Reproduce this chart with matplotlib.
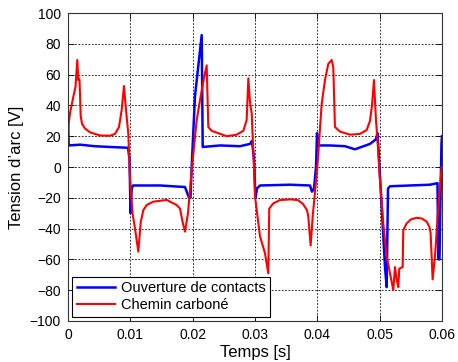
import matplotlib as mpl
mpl.use('Agg')
import matplotlib.pyplot as plt

# values, time in s, voltage in V
t_contacts = [
    0.0, 0.00011, 0.00193, 0.00433, 0.00674, 0.00963, 0.00987, 0.01003,
    0.01022, 0.01043, 0.01476, 0.01877, 0.01941, 0.01965, 0.01984, 0.02037,
    0.02145, 0.02161, 0.02439, 0.02759, 0.02920, 0.02952, 0.02984, 0.03008,
    0.03032, 0.03080, 0.03561, 0.03882, 0.03914, 0.03947, 0.03979, 0.03995,
    0.04019, 0.04203, 0.04444, 0.04604, 0.04845, 0.04941, 0.04965, 0.04981,
    0.05033, 0.05086, 0.05113, 0.05134, 0.05166, 0.05487, 0.05807, 0.05928,
    0.05941, 0.05960, 0.05976, 0.05992, 0.06]
v_contacts = [
    30, 14, 14.5, 13.5, 13, 12.5, 5, -30,
    -14, -12, -12, -13, -20, -20, 0, 46,
    85.7, 13, 14, 13.5, 15, 17, 5, -20,
    -14, -12, -11.5, -12, -16, -14, 0, 22,
    14, 14, 13.5, 11.5, 15, 18, 22, 12,
    -26, -65, -78, -14, -12.5, -12, -11.5, -10.5,
    -60, -60, -20, 15, 20]

t_carbone = [
    0.0, 0.00005, 0.00032, 0.00085, 0.00120, 0.00149, 0.00165, 0.00184,
    0.00204, 0.00225, 0.00273, 0.00353, 0.00513, 0.00674, 0.00754, 0.00818,
    0.00861, 0.00898, 0.00930, 0.00967, 0.00995, 0.01035, 0.01075, 0.01128,
    0.01166, 0.01208, 0.01262, 0.01369, 0.01583, 0.01743, 0.01797, 0.01840,
    0.01877, 0.01925, 0.01957, 0.01989, 0.02065, 0.02118, 0.02182, 0.02225,
    0.02251, 0.02304, 0.02546, 0.02706, 0.02813, 0.02866, 0.02893, 0.02920,
    0.02947, 0.02984, 0.03000, 0.03080, 0.03160, 0.03213, 0.03229, 0.03294,
    0.03401, 0.03561, 0.03690, 0.03770, 0.03834, 0.03855, 0.03893, 0.03926,
    0.04000, 0.04070, 0.04123, 0.04176, 0.04230, 0.04256, 0.04283, 0.04363,
    0.04524, 0.04684, 0.04792, 0.04845, 0.04877, 0.04909, 0.04941, 0.04965,
    0.05005, 0.05058, 0.05112, 0.05166, 0.05219, 0.05246, 0.05273, 0.05299,
    0.05315, 0.05369, 0.05379, 0.05433, 0.05503, 0.05594, 0.05679, 0.05754,
    0.05800, 0.05818, 0.05850, 0.05888, 0.05941, 0.05995]
v_carbone = [
    18, 26, 35, 45.6, 52, 69.5, 56.5, 57,
    33, 28, 25, 22.5, 20.5, 20.3, 21.5, 26,
    37, 52.6, 37, 21.9, -8, -30, -40, -55,
    -36, -28, -24.7, -22.5, -21.4, -24.7, -27, -36,
    -42, -30, -15, 0, 30.5, 43.5, 58, 66,
    26, 23.5, 20, 21, 23.5, 30.5, 57.6, 42,
    35, 0, -19, -45, -56, -69, -27, -23.6,
    -21.5, -21, -21.5, -24, -28, -32, -51, -32,
    0, 41, 56.5, 67, 69.5, 65, 26, 23,
    21, 21.5, 24, 30, 40, 56.5, 30.5, 18,
    -8.4, -36.6, -58, -69, -80, -65, -73, -78,
    -66, -65, -41, -36.6, -34, -33, -33.5, -35.5,
    -39, -43, -73, -58, -26, 0]

x_ticks = [0, 0.01, 0.02, 0.03, 0.04, 0.05, 0.06]
x_tick_labels = ['0', '0.01', '0.02', '0.03', '0.04', '0.05', '0.06']
y_ticks = list(range(-100, 101, 20))

plt.rcParams['font.family'] = ['Liberation Sans', 'DejaVu Sans']

fig = plt.figure(figsize=(4.58, 3.62), dpi=100)
ax = fig.add_axes([0.1485, 0.1133, 0.8165, 0.8507])

ax.plot(t_contacts, v_contacts, color='#0000ff', lw=1.8,
        label='Ouverture de contacts')
ax.plot(t_carbone, v_carbone, color='#ff0000', lw=1.5,
        label='Chemin carboné')

ax.set_xlim(0, 0.06)
ax.set_ylim(-100, 100)
ax.set_xticks(x_ticks)
ax.set_xticklabels(x_tick_labels)
ax.set_yticks(y_ticks)
ax.tick_params(direction='in', length=4, width=0.6, labelsize=10,
               top=True, right=True, pad=5)
ax.grid(True, color='black', linestyle=(0, (2, 2)), linewidth=0.6)
for s in ax.spines.values():
    s.set_linewidth(0.8)
    s.set_color('#333333')

ax.set_xlabel('Temps [s]', fontsize=12, labelpad=2)
ax.set_ylabel('Tension d\u2019arc [V]', fontsize=12, labelpad=4)

leg = ax.legend(loc='lower left', fontsize=10.5, fancybox=False,
                framealpha=1, edgecolor='black', borderaxespad=0.3,
                handlelength=2.6, handletextpad=0.4, borderpad=0.3,
                labelspacing=0.2)
leg.get_frame().set_linewidth(0.8)

fig.savefig('out.png', dpi=100)
